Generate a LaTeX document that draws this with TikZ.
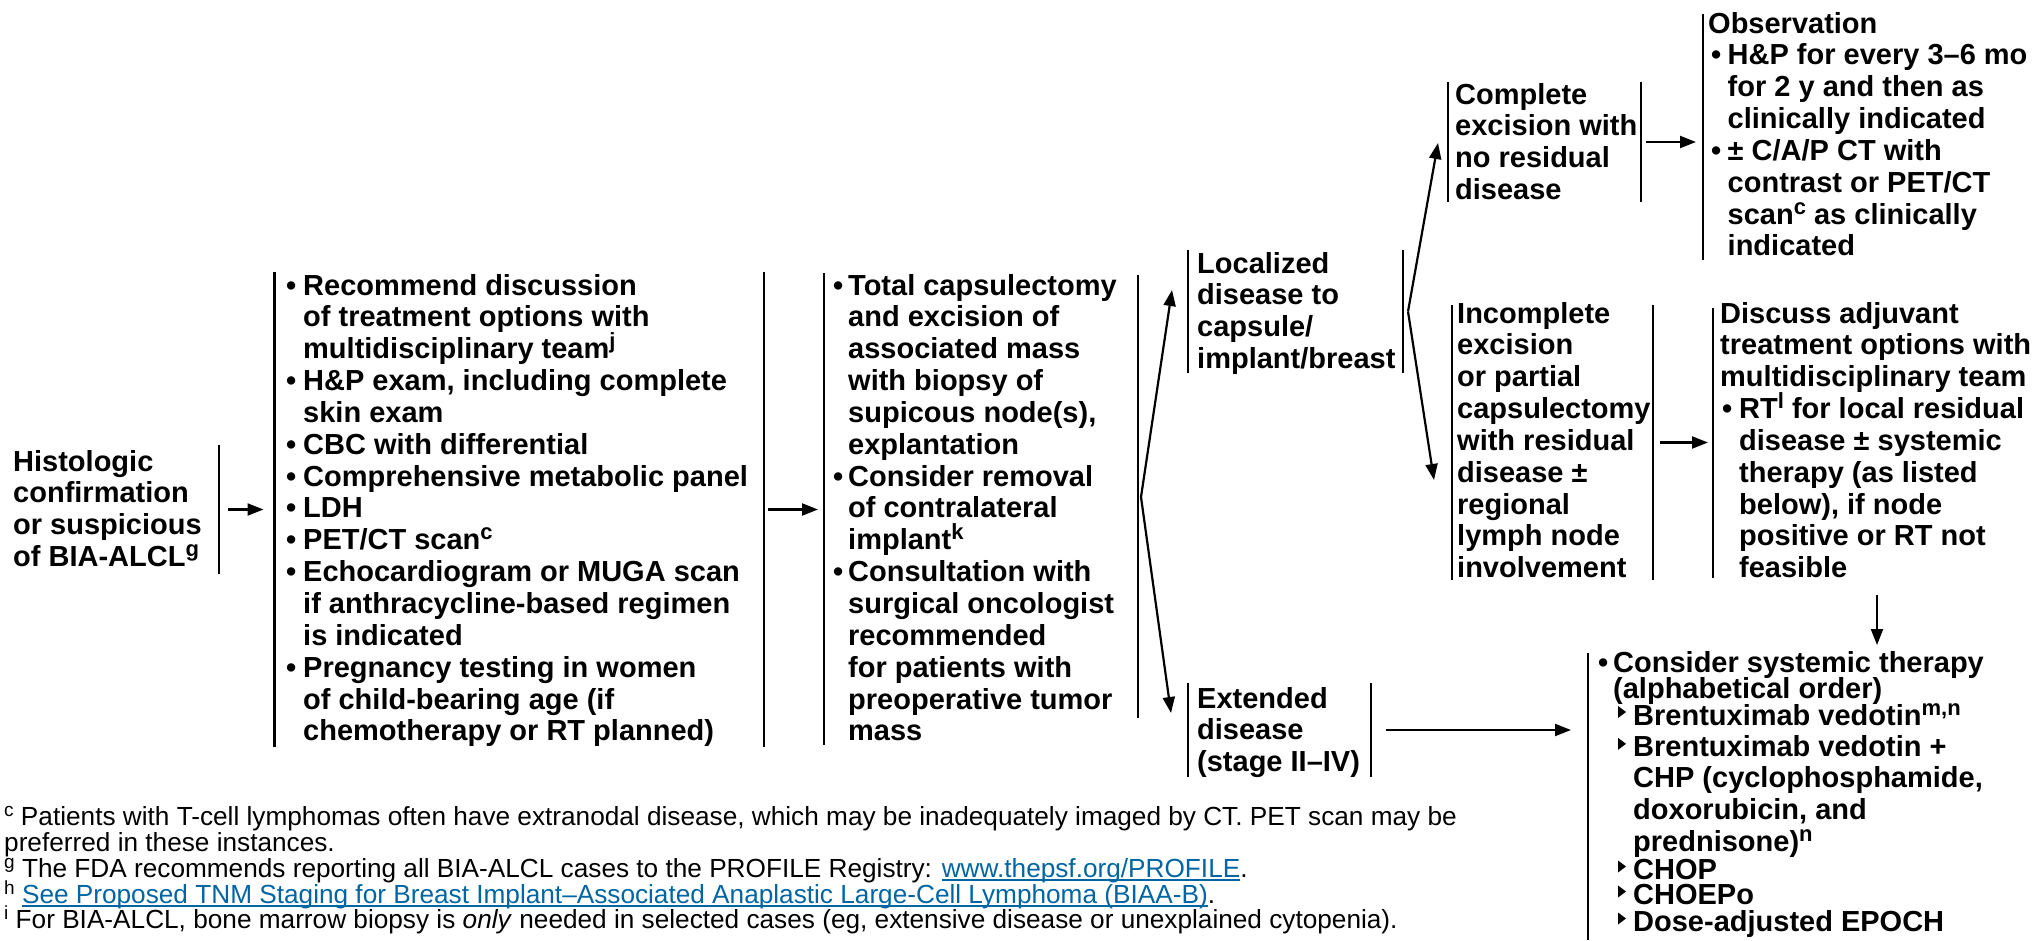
\documentclass[tikz,border=0pt]{standalone}
\usepackage{fontspec}
\setmainfont{Liberation Sans}
\usetikzlibrary{arrows.meta,calc}
\definecolor{linkblue}{RGB}{0,102,163}
% superscripts for the bold box texts and for the footnotes
\newcommand{\supb}[1]{\raisebox{10pt}{\fontsize{22}{22}\selectfont #1}}
\newcommand{\supn}[1]{\raisebox{9pt}{\fontsize{19}{19}\selectfont #1}}
\newcommand{\bl}[1]{\makebox[#1][l]{•}}
\newcommand{\cell}[2]{\parbox[t]{#1}{\raggedright\lineskiplimit=-100pt #2}}
\newcommand{\ulink}[1]{\setbox0\hbox{#1}\rlap{\rule[-3.5pt]{\wd0}{1.4pt}}\box0}

\begin{document}
\begin{tikzpicture}[x=1pt,y=-1pt,
  frame/.style={draw=none,inner sep=0pt,outer sep=0pt,anchor=north west},
  bar/.style={line width=2.3pt},
  arr/.style={line width=2.2pt,-{Triangle[length=16pt,width=12pt]}},
  txt/.style={anchor=base west,inner sep=0pt,font=\bfseries\fontsize{29}{31.85}\selectfont},
  note/.style={anchor=base west,inner sep=0pt,font=\fontsize{26.2}{26}\selectfont}]

\fill[white] (0,0) rectangle (2038,940);
\useasboundingbox (0,0) rectangle (2038,940);

% ---- box frames ----
\node[frame,minimum width=209pt,minimum height=129pt] (hist) at (10,445) {};
\node[frame,minimum width=489.5pt,minimum height=475pt] (work) at (274.5,272) {};
\node[frame,minimum width=314pt,minimum height=472pt] (surg) at (824,273) {};
\node[frame,minimum width=215pt,minimum height=123pt] (loc) at (1188,250) {};
\node[frame,minimum width=183pt,minimum height=94pt] (ext) at (1188,683) {};
\node[frame,minimum width=193pt,minimum height=120pt] (comp) at (1448,82) {};
\node[frame,minimum width=201pt,minimum height=275pt] (inc) at (1452,305) {};
\node[frame,minimum width=330pt,minimum height=246pt] (obs) at (1703,14) {};
\node[frame,minimum width=320pt,minimum height=270pt] (disc) at (1713,308) {};
\node[frame,minimum width=445pt,minimum height=287pt] (sys) at (1588,653) {};

% ---- side bars ----
\draw[bar] (hist.north east) -- (hist.south east);
\draw[bar] (work.north west) -- (work.south west);
\draw[bar] (work.north east) -- (work.south east);
\draw[bar] (surg.north west) -- (surg.south west);
\draw[bar] ($(surg.north east)+(0,2)$) -- ($(surg.north east)+(0,445)$);
\draw[bar] (loc.north west) -- (loc.south west);
\draw[bar] (loc.north east) -- (loc.south east);
\draw[bar] (ext.north west) -- (ext.south west);
\draw[bar] (ext.north east) -- (ext.south east);
\draw[bar] (comp.north west) -- (comp.south west);
\draw[bar] (comp.north east) -- (comp.south east);
\draw[bar] (inc.north west) -- (inc.south west);
\draw[bar] (inc.north east) -- (inc.south east);
\draw[bar] (obs.north west) -- (obs.south west);
\draw[bar] (disc.north west) -- (disc.south west);
\draw[bar] (sys.north west) -- (sys.south west);

% ---- texts ----
\node[txt] (hist-t) at (13,471) {\cell{200pt}{Histologic\\confirmation\\or suspicious\\of BIA-ALCL\supb{g}}};

\node[txt] (work-t) at (286,295) {\cell{480pt}{%
\bl{17pt}Recommend discussion\\
\hspace*{17pt}of treatment options with\\
\hspace*{17pt}multidisciplinary team\supb{j}\\
\bl{17pt}H\&P exam, including complete\\
\hspace*{17pt}skin exam\\
\bl{17pt}CBC with differential\\
\bl{17pt}Comprehensive metabolic panel\\
\bl{17pt}LDH\\
\bl{17pt}PET/CT scan\supb{c}\\
\bl{17pt}Echocardiogram or MUGA scan\\
\hspace*{17pt}if anthracycline-based regimen\\
\hspace*{17pt}is indicated\\
\bl{17pt}Pregnancy testing in women\\
\hspace*{17pt}of child-bearing age (if\\
\hspace*{17pt}chemotherapy or RT planned)}};

\node[txt] (surg-t) at (833,295) {\cell{300pt}{%
\bl{15pt}Total capsulectomy\\
\hspace*{15pt}and excision of\\
\hspace*{15pt}associated mass\\
\hspace*{15pt}with biopsy of\\
\hspace*{15pt}supicous node(s),\\
\hspace*{15pt}explantation\\
\bl{15pt}Consider removal\\
\hspace*{15pt}of contralateral\\
\hspace*{15pt}implant\supb{k}\\
\bl{15pt}Consultation with\\
\hspace*{15pt}surgical oncologist\\
\hspace*{15pt}recommended\\
\hspace*{15pt}for patients with\\
\hspace*{15pt}preoperative tumor\\
\hspace*{15pt}mass}};

\node[txt] (loc-t) at (1197,273) {\cell{210pt}{Localized\\disease to\\capsule/\\implant/breast}};
\node[txt] (ext-t) at (1197,708) {\cell{180pt}{Extended\\disease\\(stage II–IV)}};
\node[txt] (comp-t) at (1455,104) {\cell{190pt}{Complete\\excision with\\no residual\\disease}};
\node[txt] (inc-t) at (1457,323) {\cell{200pt}{Incomplete\\excision\\or partial\\capsulectomy\\with residual\\disease ±\\regional\\lymph node\\involvement}};

\node[txt] (obs-t) at (1708,33) {\cell{330pt}{%
Observation\\
\hspace*{3pt}\bl{16.5pt}H\&P for every 3–6 mo\\
\hspace*{19.5pt}for 2 y and then as\\
\hspace*{19.5pt}clinically indicated\\
\hspace*{3pt}\bl{16.5pt}± C/A/P CT with\\
\hspace*{19.5pt}contrast or PET/CT\\
\hspace*{19.5pt}scan\supb{c} as clinically\\
\hspace*{19.5pt}indicated}};

\node[txt] (disc-t) at (1720,323) {\cell{320pt}{%
Discuss adjuvant\\
treatment options with\\
multidisciplinary team\\
\hspace*{2pt}\bl{17pt}RT\supb{l} for local residual\\
\hspace*{19pt}disease ± systemic\\
\hspace*{19pt}therapy (as listed\\
\hspace*{19pt}below), if node\\
\hspace*{19pt}positive or RT not\\
\hspace*{19pt}feasible}};

\node[txt] (sys-t) at (1598,672) {\cell{440pt}{%
\bl{15pt}Consider systemic therapy\\[-5.85pt]
\hspace*{15pt}(alphabetical order)\\[-4.85pt]
\hspace*{35pt}Brentuximab vedotin\supb{m,n}\\
\hspace*{35pt}Brentuximab vedotin +\\[-0.85pt]
\hspace*{35pt}CHP (cyclophosphamide,\\
\hspace*{35pt}doxorubicin, and\\
\hspace*{35pt}prednisone)\supb{n}\\[-3.85pt]
\hspace*{35pt}CHOP\\[-6.85pt]
\hspace*{35pt}CHOEPo\\[-4.85pt]
\hspace*{35pt}Dose-adjusted EPOCH}};
% list markers of the regimen entries
\foreach \dy in {53,84.85,207.5,232.5,259.5}
  \fill ($(sys-t.base west)+(20,\dy-19)$) -- ++(0,12) -- ++(8,-6) -- cycle;

% ---- connectors ----
\draw[arr,shorten <=9pt,shorten >=11pt] (hist.east) -- (hist.east -| work.west);
\draw[arr,shorten <=4pt,shorten >=6pt] (work.east) -- (work.east -| surg.west);
\coordinate (br1) at ($(surg.north east)+(3,224)$);
\draw[arr] (br1) -- ($(loc.north west)+(-16,40)$);
\draw[arr] (br1) -- ($(ext.north west)+(-17,30)$);
\coordinate (br2) at ($(loc.east)+(5,0)$);
\draw[arr] (br2) -- ($(comp.north west)+(-10,61)$);
\draw[arr] (br2) -- ($(inc.north west)+(-18,175)$);
\draw[arr,shorten <=5pt,shorten >=7pt] (comp.east) -- (comp.east -| obs.west);
\draw[arr,shorten <=7pt,shorten >=5pt] (inc.east) -- (inc.east -| disc.west);
\draw[arr] ($(disc.south west)+(164,17)$) -- ($(sys.north west)+(289,-8)$);
\draw[arr,shorten <=15pt,shorten >=17pt] (ext.east) -- (ext.east -| sys.west);

% ---- footnotes ----
\node[note] (fn-c) at (4,825) {\supn{c} Patients with T-cell lymphomas often have extranodal disease, which may be inadequately imaged by CT. PET scan may be};
\node[note] (fn-c2) at (4,851) {preferred in these instances.};
\node[note] (fn-g) at (4,877) {\supn{g} The FDA recommends reporting all BIA-ALCL cases to the PROFILE Registry: {\color{linkblue}\ulink{www.thepsf.org/PROFILE}}.};
\node[note] (fn-h) at (4,903) {\supn{h} {\color{linkblue}\ulink{See Proposed TNM Staging for Breast Implant–Associated Anaplastic Large-Cell Lymphoma (BIAA-B)}}.};
\node[note] (fn-i) at (4,928) {\supn{i} For BIA-ALCL, bone marrow biopsy is \textit{only} needed in selected cases (eg, extensive disease or unexplained cytopenia).};
\end{tikzpicture}
\end{document}
